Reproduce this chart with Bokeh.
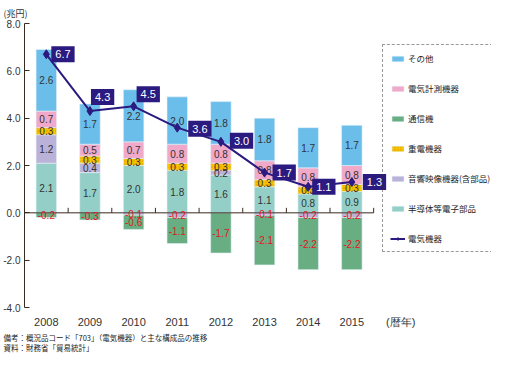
import math
from bokeh.plotting import figure
from bokeh.models import (Range1d, FixedTicker, ColumnDataSource,
                          Legend, LegendItem, Title, NumeralTickFormatter)
from bokeh.core.properties import value
from bokeh.embed import file_html
from bokeh.resources import INLINE

# ---- data (兆円) ----
years = ["2008", "2009", "2010", "2011", "2012", "2013", "2014", "2015"]
semi = [2.1, 1.7, 2.0, 1.8, 1.6, 1.1, 0.8, 0.9]          # 半導体等電子部品
av = [1.2, 0.4, -0.1, -0.2, 0.2, -0.1, -0.2, -0.2]       # 音響映像機器(含部品)
heavy = [0.3, 0.3, 0.3, 0.3, 0.3, 0.3, 0.3, 0.3]         # 重電機器
meas = [0.7, 0.5, 0.7, 0.8, 0.8, 0.8, 0.8, 0.8]          # 電気計測機器
other = [2.6, 1.7, 2.2, 2.0, 1.8, 1.8, 1.7, 1.7]         # その他
comm = [-0.2, -0.3, -0.6, -1.1, -1.7, -2.1, -2.2, -2.2]  # 通信機
total = [6.7, 4.3, 4.5, 3.6, 3.0, 1.7, 1.1, 1.3]         # 電気機器
y_ticks = [-4, -2, 0, 2, 4, 6, 8]
x_unit_label = "(暦年)"

series = [
    ("半導体等電子部品", semi, "#93CFC7"),
    ("音響映像機器(含部品)", av, "#BAB2D8"),
    ("重電機器", heavy, "#F7C400"),
    ("電気計測機器", meas, "#F0A9C9"),
    ("その他", other, "#6BBDEA"),
    ("通信機", comm, "#68AE82"),
]
legend_order = ["その他", "電気計測機器", "通信機", "重電機器", "音響映像機器(含部品)", "半導体等電子部品"]

# style-only offsets for the line value boxes (pixels)
box_dx = [5, 1, 3, 11, 9, 8, 4, 11]
box_dy = [0, -14, -12, 1, -1, 0, 0, 0]

JP = "Noto Sans CJK JP"
NUM = "Liberation Sans"
LINE_C = "#2B1A7F"
AX_C = "#3A2A20"

n = len(years)
xs = [i + 0.5 for i in range(n)]  # category centres
X_END = 10.7                      # extra room on the right for the legend

p = figure(x_range=Range1d(0, X_END), y_range=Range1d(-4, 8),
           width=491, height=353, output_backend="svg", toolbar_location=None,
           min_border_left=0, min_border_right=0, min_border_top=15, min_border_bottom=0)
p.outline_line_color = None
p.xgrid.visible = False
p.ygrid.visible = False
p.background_fill_color = "white"

renderers = {}
lab_x, lab_y, lab_t, lab_c = [], [], [], []
pos_base = [0.0] * n
neg_base = [0.0] * n
for name, vals, color in series:
    bottoms, tops = [], []
    for i, v in enumerate(vals):
        if v >= 0:
            b = pos_base[i]; t = b + v; pos_base[i] = t
        else:
            b = neg_base[i]; t = b + v; neg_base[i] = t
        bottoms.append(b); tops.append(t)
        lab_x.append(xs[i]); lab_y.append((b + t) / 2)
        lab_t.append(f"{v:.1f}"); lab_c.append("#E5141E" if v < 0 else "#333333")
    src = ColumnDataSource(dict(x=xs, bottom=bottoms, top=tops))
    kw = {}
    if name == "重電機器":
        kw = dict(hatch_pattern="dot", hatch_color="#E29000", hatch_scale=3, hatch_weight=1)
    r = p.vbar(x="x", bottom="bottom", top="top", width=0.47, source=src,
               fill_color=color, line_color="#E6F2F8", line_width=0.6, **kw)
    renderers[name] = r

# zero line + boundary ticks
p.segment(x0=[0], y0=[0], x1=[n], y1=[0], line_color=AX_C, line_width=1)
p.ray(x=list(range(1, n + 1)), y=[0] * n, length=5, length_units="screen",
      angle=math.pi / 2, line_color=AX_C, line_width=1)

p.text(x=lab_x, y=lab_y, text=lab_t, text_color=lab_c, text_font=value(NUM),
       text_font_size="10px", text_align="center", text_baseline="middle")

# line series
lsrc = ColumnDataSource(dict(x=xs, y=total, t=[f"{v:.1f}" for v in total],
                             dx=box_dx, dy=box_dy))
lr = p.line(x="x", y="y", source=lsrc, line_color=LINE_C, line_width=2)
sr = p.scatter(x="x", y="y", source=lsrc, marker="diamond", size=9,
               fill_color=LINE_C, line_color=LINE_C)
p.text(x="x", y="y", text="t", source=lsrc, x_offset="dx", y_offset="dy",
       anchor="center_left", text_color="white", text_font=value(NUM),
       text_font_size="11px", padding=4, background_fill_color=LINE_C,
       text_align="left", text_baseline="middle")

# y axis
ya = p.yaxis[0]
ya.ticker = FixedTicker(ticks=y_ticks)
ya.formatter = NumeralTickFormatter(format="0.0")
ya.major_tick_in = 5
ya.major_tick_out = 0
ya.minor_tick_line_color = None
ya.axis_line_color = AX_C
ya.major_tick_line_color = AX_C
ya.major_label_text_font = NUM
ya.major_label_text_font_size = "10px"
ya.major_label_text_color = "#333333"
ya.major_label_standoff = 4

# x axis (year labels + unit label)
unit_pos = n + 0.62
xa = p.xaxis[0]
xa.ticker = FixedTicker(ticks=xs + [unit_pos])
overrides = {x: y for x, y in zip(xs, years)}
overrides[unit_pos] = x_unit_label
xa.major_label_overrides = overrides
xa.axis_line_color = None
xa.major_tick_line_color = None
xa.major_tick_in = 0
xa.major_tick_out = 0
xa.minor_tick_line_color = None
xa.minor_tick_in = 0
xa.minor_tick_out = 0
xa.major_label_text_font = NUM
xa.major_label_text_font_size = "11px"
xa.major_label_text_color = "#333333"
xa.major_label_standoff = 8

# titles
p.add_layout(Title(text="(兆円)", align="left", offset=-21, text_font=JP,
                   text_font_size="9px", text_font_style="normal", text_color="#333333",
                   standoff=8), "above")
p.add_layout(Title(text="備考：概況品コード「703」（電気機器）と主な構成品の推移\n資料：財務省「貿易統計」",
                   align="left", offset=-21, text_font=JP, text_font_size="7.5px",
                   text_font_style="normal", text_color="#222222", standoff=0,
                   text_line_height=0.95), "below")

items = [LegendItem(label=nm, renderers=[renderers[nm]]) for nm in legend_order]
items.append(LegendItem(label="電気機器", renderers=[lr, sr]))
legend = Legend(items=items, location=(358, 55), padding=7, spacing=18,
                glyph_width=15, glyph_height=7, label_height=10, label_standoff=3,
                label_text_font=JP, label_text_font_size="8.5px", label_text_color="#222222",
                border_line_color="#333333", border_line_dash="1 1", border_line_width=1,
                background_fill_alpha=0)
p.add_layout(legend)

open("out.html", "w").write(file_html(p, INLINE))
